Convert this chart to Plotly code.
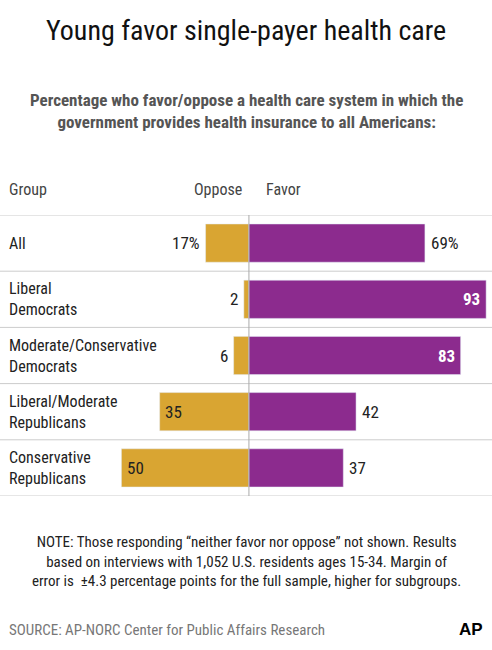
import plotly.graph_objects as go

groups = ["All", "Liberal<br>Democrats", "Moderate/Conservative<br>Democrats", "Liberal/Moderate<br>Republicans", "Conservative<br>Republicans"]
oppose = [17, 2, 6, 35, 50]
favor = [69, 93, 83, 42, 37]
oppose_lbl = ["17%", "2", "6", "35", "50"]
favor_lbl = ["69%", "93", "83", "42", "37"]

GOLD = "#D9A532"
PURPLE = "#8C2B8E"
FONT = "Liberation Sans Narrow, Roboto Condensed, Roboto, sans-serif"
ys = list(range(len(groups)))
PT, PB = 215, 496  # plot area pixel top/bottom
py = lambda p: (PB - p) / (PB - PT)

fig = go.Figure()
fig.add_bar(y=ys, x=[-v for v in oppose], orientation="h", marker_color=GOLD, width=0.68, hoverinfo="skip")
fig.add_bar(y=ys, x=favor, orientation="h", marker_color=PURPLE, width=0.68, hoverinfo="skip")

ann = []
for i in ys:
    ann.append(dict(x=0.015, xref="paper", y=i, yref="y", text=groups[i], showarrow=False,
                    xanchor="left", align="left", font=dict(size=16, color="#222")))
    if oppose[i] >= 20:
        ann.append(dict(x=-oppose[i] + 1.5, y=i, text=oppose_lbl[i], showarrow=False, xanchor="left",
                        font=dict(size=17, color="#222")))
    else:
        ann.append(dict(x=-oppose[i] - 1.5, y=i, text=oppose_lbl[i], showarrow=False, xanchor="right",
                        font=dict(size=17, color="#222")))
    if favor[i] >= 75:
        ann.append(dict(x=favor[i] - 1.5, y=i, text="<b>" + favor_lbl[i] + "</b>", showarrow=False, xanchor="right",
                        font=dict(size=17, color="white")))
    else:
        ann.append(dict(x=favor[i] + 1.5, y=i, text=favor_lbl[i], showarrow=False, xanchor="left",
                        font=dict(size=17, color="#222")))

ann += [
    dict(x=0.5, y=py(12), xref="paper", yref="paper", yanchor="top", text="Young favor single-payer health care",
         showarrow=False, font=dict(size=28, color="#111")),
    dict(x=0.5, y=py(88), xref="paper", yref="paper", yanchor="top",
         text="<b>Percentage who favor/oppose a health care system in which the<br>government provides health insurance to all Americans:</b>",
         showarrow=False, font=dict(size=17, color="#555")),
    dict(x=0.015, xref="paper", y=-0.5, yref="y", yshift=26, text="Group", showarrow=False, xanchor="left",
         font=dict(size=16, color="#444")),
    dict(x=-2, y=-0.5, yref="y", yshift=26, text="Oppose", showarrow=False, xanchor="right", font=dict(size=16, color="#444")),
    dict(x=6, y=-0.5, yref="y", yshift=26, text="Favor", showarrow=False, xanchor="left", font=dict(size=16, color="#444")),
    dict(x=0.5, y=py(592), xref="paper", yref="paper", yanchor="bottom",
         text="NOTE: Those responding “neither favor nor oppose” not shown. Results<br>based on interviews with 1,052 U.S. residents ages 15-34. Margin of<br>error is  ±4.3 percentage points for the full sample, higher for subgroups.",
         showarrow=False, font=dict(size=15, color="#222")),
    dict(x=0.015, y=py(641), xref="paper", yref="paper", yanchor="bottom", xanchor="left",
         text="SOURCE: AP-NORC Center for Public Affairs Research", showarrow=False,
         font=dict(size=15, color="#777")),
    dict(x=0.985, y=py(641), xref="paper", yref="paper", yanchor="bottom", xanchor="right",
         text="<b>AP</b>", showarrow=False, font=dict(size=17, color="#000", family="Liberation Sans")),
]

shapes = [dict(type="line", xref="paper", x0=0, x1=1, y0=k + 0.5, y1=k + 0.5, line=dict(color="#ccc", width=1))
          for k in range(-1, len(groups))]
shapes.append(dict(type="line", x0=0, x1=0, y0=-0.5, y1=4.55, line=dict(color="#aaa", width=1)))

fig.update_layout(
    width=492, height=650, margin=dict(l=0, r=0, t=PT, b=650 - PB),
    barmode="overlay", showlegend=False, plot_bgcolor="white", paper_bgcolor="white",
    font=dict(family=FONT),
    xaxis=dict(range=[-97.6, 95.3], visible=False, fixedrange=True),
    yaxis=dict(range=[4.5, -0.5], visible=False),
    annotations=ann, shapes=shapes,
)
fig.write_html("out.html", config={"displayModeBar": False},
               post_script="document.body.style.margin='0';document.body.style.overflow='hidden';")
